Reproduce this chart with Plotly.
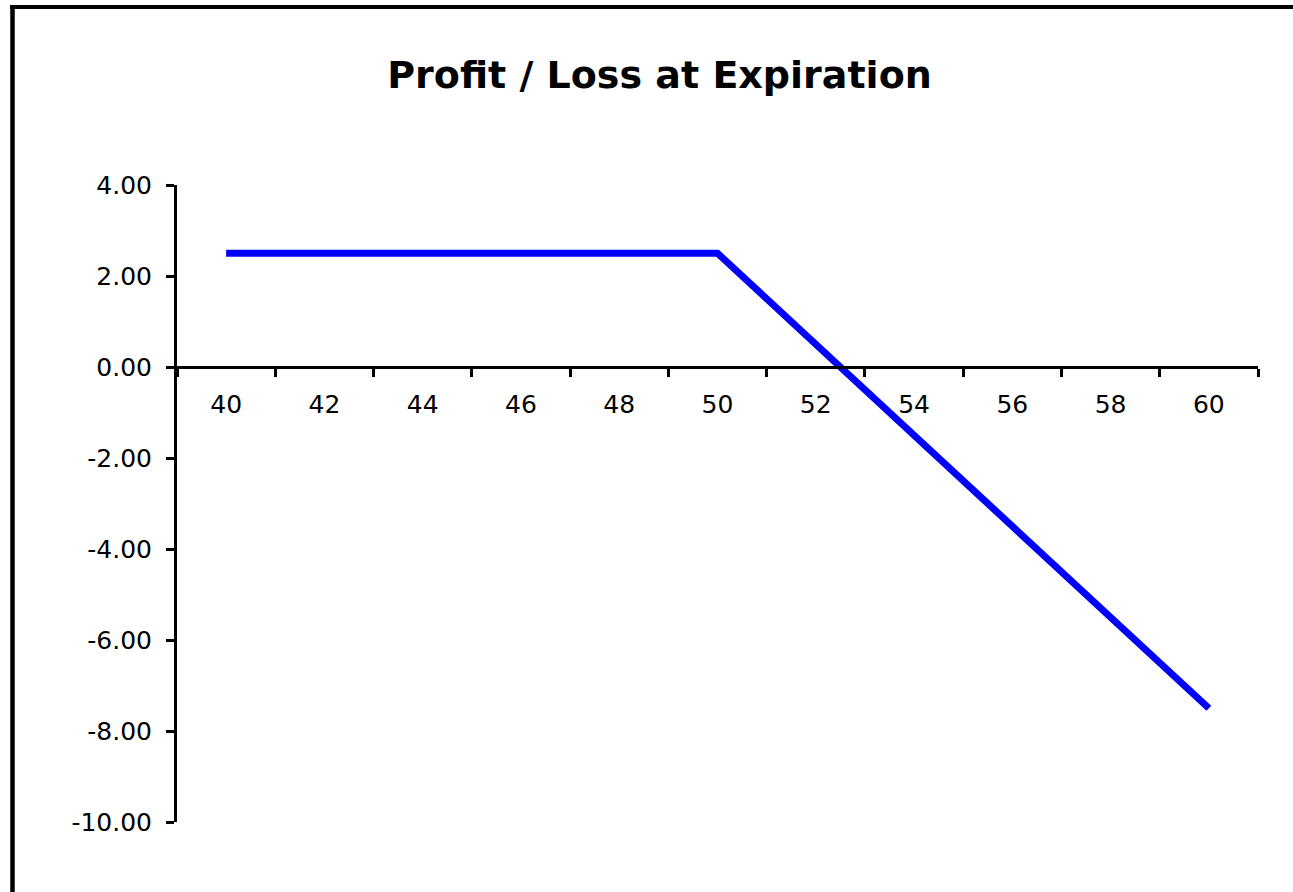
import plotly.graph_objects as go

# Data
stock_price = [40, 41, 42, 43, 44, 45, 46, 47, 48, 49, 50,
               51, 52, 53, 54, 55, 56, 57, 58, 59, 60]
profit_loss = [2.5, 2.5, 2.5, 2.5, 2.5, 2.5, 2.5, 2.5, 2.5, 2.5, 2.5,
               1.5, 0.5, -0.5, -1.5, -2.5, -3.5, -4.5, -5.5, -6.5, -7.5]

x_label_vals = [40, 42, 44, 46, 48, 50, 52, 54, 56, 58, 60]
x_tick_marks = [39, 41, 43, 45, 47, 49, 51, 53, 55, 57, 59, 61]
y_tick_vals = [4, 2, 0, -2, -4, -6, -8, -10]
y_tick_text = ["4.00", "2.00", "0.00", "-2.00", "-4.00", "-6.00", "-8.00", "-10.00"]

W, H = 1293, 892
L, R, T, B = 177, 35, 185, 70
pw, ph = W - L - R, H - T - B

fig = go.Figure()
fig.add_trace(go.Scatter(
    x=stock_price, y=profit_loss, mode="lines",
    line=dict(color="#0000FF", width=7),
    showlegend=False, hoverinfo="x+y",
))

def px_to_paper_x(px):
    return (px - L) / pw

def px_to_paper_y(py):
    return (H - B - py) / ph

shapes = [
    # chart frame: left and top edges
    dict(type="line", xref="paper", yref="paper",
         x0=px_to_paper_x(12.5), x1=px_to_paper_x(12.5),
         y0=px_to_paper_y(5), y1=px_to_paper_y(900),
         line=dict(color="black", width=4.5)),
    dict(type="line", xref="paper", yref="paper",
         x0=px_to_paper_x(10), x1=px_to_paper_x(1300),
         y0=px_to_paper_y(7), y1=px_to_paper_y(7),
         line=dict(color="black", width=4)),
]

fig.update_layout(
    width=W, height=H,
    margin=dict(l=L, r=R, t=T, b=B, pad=0),
    paper_bgcolor="white", plot_bgcolor="white",
    font=dict(family="DejaVu Sans", color="black", size=25),
    title=dict(text="Profit / Loss at Expiration",
               font=dict(family="DejaVu Sans", size=38, color="black", weight="bold"),
               x=659.5 / W, xref="container", xanchor="center",
               y=1 - 75 / H, yref="container", yanchor="middle"),
    shapes=shapes,
    xaxis=dict(
        range=[39, 61], anchor="free", position=10 / 14,
        showline=True, linecolor="black", linewidth=3,
        showgrid=False, zeroline=False,
        tickmode="array", tickvals=x_label_vals,
        ticktext=[str(v) for v in x_label_vals],
        ticks="", ticklabelstandoff=14,
        tickfont=dict(family="DejaVu Sans", size=25, color="black"),
        minor=dict(tickmode="array", tickvals=x_tick_marks,
                   ticks="outside", ticklen=8, tickwidth=3, tickcolor="black",
                   showgrid=False),
    ),
    yaxis=dict(
        range=[-10, 4], domain=[0, 1],
        showline=True, linecolor="black", linewidth=3,
        showgrid=False, zeroline=False,
        tickmode="array", tickvals=y_tick_vals, ticktext=y_tick_text,
        ticks="outside", ticklen=8, tickwidth=3, tickcolor="black",
        ticklabelstandoff=9,
        tickfont=dict(family="DejaVu Sans", size=25, color="black"),
    ),
)

fig.write_html("out.html")
